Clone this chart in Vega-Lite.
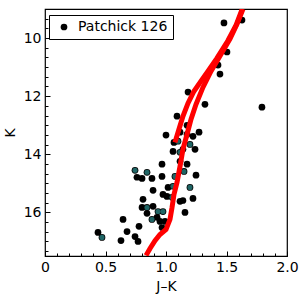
{
  "$schema": "https://vega.github.io/schema/vega-lite/v6.json",
  "width": 242,
  "height": 247,
  "autosize": "none",
  "padding": {"left": 45, "top": 9, "right": 13, "bottom": 44},
  "config": {
    "view": {"stroke": "black", "strokeWidth": 1.2},
    "font": "DejaVu Sans",
    "axis": {"grid": false, "domain": false, "labelFlush": false, "labelOverlap": false, "labelFont": "DejaVu Sans", "labelFontSize": 14, "labelColor": "black", "titleFont": "DejaVu Sans", "titleFontSize": 14, "titleFontWeight": "normal", "titleColor": "black", "tickColor": "black", "tickWidth": 1},
    "legend": {"orient": "none", "legendX": 4, "legendY": 6, "strokeColor": "black", "fillColor": "white", "padding": 5, "symbolOffset": 3, "labelOffset": 7, "labelFontSize": 14, "labelFont": "DejaVu Sans", "labelColor": "black", "symbolType": "circle", "symbolSize": 45, "symbolStrokeWidth": 0}
  },
  "datasets": {
    "pts": [
      {"jk": 1.479, "k": 9.48, "grp": "black", "cluster": "Patchick 126"},
      {"jk": 1.628, "k": 9.38, "grp": "black", "cluster": "Patchick 126"},
      {"jk": 1.504, "k": 10.48, "grp": "black", "cluster": "Patchick 126"},
      {"jk": 1.430, "k": 10.93, "grp": "black", "cluster": "Patchick 126"},
      {"jk": 1.446, "k": 11.24, "grp": "black", "cluster": "Patchick 126"},
      {"jk": 1.793, "k": 12.38, "grp": "black", "cluster": "Patchick 126"},
      {"jk": 1.182, "k": 11.86, "grp": "black", "cluster": "Patchick 126"},
      {"jk": 1.322, "k": 12.28, "grp": "black", "cluster": "Patchick 126"},
      {"jk": 1.091, "k": 12.69, "grp": "black", "cluster": "Patchick 126"},
      {"jk": 1.174, "k": 13.0, "grp": "black", "cluster": "Patchick 126"},
      {"jk": 1.000, "k": 13.34, "grp": "black", "cluster": "Patchick 126"},
      {"jk": 1.273, "k": 13.24, "grp": "black", "cluster": "Patchick 126"},
      {"jk": 1.174, "k": 13.31, "grp": "black", "cluster": "Patchick 126"},
      {"jk": 1.223, "k": 13.38, "grp": "black", "cluster": "Patchick 126"},
      {"jk": 1.116, "k": 13.24, "grp": "black", "cluster": "Patchick 126"},
      {"jk": 1.066, "k": 13.59, "grp": "black", "cluster": "Patchick 126"},
      {"jk": 1.099, "k": 13.55, "grp": "teal", "cluster": "Patchick 126"},
      {"jk": 1.198, "k": 13.66, "grp": "teal", "cluster": "Patchick 126"},
      {"jk": 1.240, "k": 13.83, "grp": "black", "cluster": "Patchick 126"},
      {"jk": 1.140, "k": 13.83, "grp": "black", "cluster": "Patchick 126"},
      {"jk": 1.058, "k": 13.90, "grp": "black", "cluster": "Patchick 126"},
      {"jk": 1.116, "k": 13.93, "grp": "teal", "cluster": "Patchick 126"},
      {"jk": 0.967, "k": 14.34, "grp": "black", "cluster": "Patchick 126"},
      {"jk": 1.116, "k": 14.24, "grp": "black", "cluster": "Patchick 126"},
      {"jk": 1.174, "k": 14.34, "grp": "black", "cluster": "Patchick 126"},
      {"jk": 0.744, "k": 14.55, "grp": "teal", "cluster": "Patchick 126"},
      {"jk": 0.760, "k": 14.79, "grp": "black", "cluster": "Patchick 126"},
      {"jk": 0.802, "k": 14.83, "grp": "black", "cluster": "Patchick 126"},
      {"jk": 0.843, "k": 14.62, "grp": "teal", "cluster": "Patchick 126"},
      {"jk": 0.884, "k": 14.83, "grp": "black", "cluster": "Patchick 126"},
      {"jk": 0.967, "k": 14.76, "grp": "black", "cluster": "Patchick 126"},
      {"jk": 1.149, "k": 14.59, "grp": "teal", "cluster": "Patchick 126"},
      {"jk": 1.248, "k": 14.72, "grp": "black", "cluster": "Patchick 126"},
      {"jk": 1.074, "k": 14.76, "grp": "teal", "cluster": "Patchick 126"},
      {"jk": 1.058, "k": 15.10, "grp": "teal", "cluster": "Patchick 126"},
      {"jk": 1.017, "k": 15.14, "grp": "black", "cluster": "Patchick 126"},
      {"jk": 1.198, "k": 15.14, "grp": "teal", "cluster": "Patchick 126"},
      {"jk": 0.893, "k": 15.24, "grp": "black", "cluster": "Patchick 126"},
      {"jk": 0.975, "k": 15.38, "grp": "black", "cluster": "Patchick 126"},
      {"jk": 0.810, "k": 15.55, "grp": "black", "cluster": "Patchick 126"},
      {"jk": 1.008, "k": 15.45, "grp": "black", "cluster": "Patchick 126"},
      {"jk": 1.050, "k": 15.48, "grp": "teal", "cluster": "Patchick 126"},
      {"jk": 1.116, "k": 15.62, "grp": "black", "cluster": "Patchick 126"},
      {"jk": 1.140, "k": 15.59, "grp": "black", "cluster": "Patchick 126"},
      {"jk": 1.223, "k": 15.52, "grp": "black", "cluster": "Patchick 126"},
      {"jk": 1.157, "k": 16.00, "grp": "black", "cluster": "Patchick 126"},
      {"jk": 0.802, "k": 15.83, "grp": "black", "cluster": "Patchick 126"},
      {"jk": 0.843, "k": 15.83, "grp": "teal", "cluster": "Patchick 126"},
      {"jk": 0.893, "k": 15.79, "grp": "black", "cluster": "Patchick 126"},
      {"jk": 0.934, "k": 15.97, "grp": "teal", "cluster": "Patchick 126"},
      {"jk": 0.975, "k": 15.97, "grp": "teal", "cluster": "Patchick 126"},
      {"jk": 0.843, "k": 16.03, "grp": "black", "cluster": "Patchick 126"},
      {"jk": 0.884, "k": 16.24, "grp": "teal", "cluster": "Patchick 126"},
      {"jk": 0.926, "k": 16.17, "grp": "black", "cluster": "Patchick 126"},
      {"jk": 0.950, "k": 16.31, "grp": "black", "cluster": "Patchick 126"},
      {"jk": 0.992, "k": 16.31, "grp": "black", "cluster": "Patchick 126"},
      {"jk": 0.967, "k": 16.52, "grp": "black", "cluster": "Patchick 126"},
      {"jk": 0.645, "k": 16.24, "grp": "black", "cluster": "Patchick 126"},
      {"jk": 0.678, "k": 16.66, "grp": "black", "cluster": "Patchick 126"},
      {"jk": 0.777, "k": 16.48, "grp": "black", "cluster": "Patchick 126"},
      {"jk": 0.438, "k": 16.69, "grp": "black", "cluster": "Patchick 126"},
      {"jk": 0.471, "k": 16.86, "grp": "teal", "cluster": "Patchick 126"},
      {"jk": 0.628, "k": 16.97, "grp": "black", "cluster": "Patchick 126"},
      {"jk": 0.744, "k": 16.83, "grp": "black", "cluster": "Patchick 126"},
      {"jk": 0.769, "k": 17.00, "grp": "black", "cluster": "Patchick 126"}
    ],
    "iso": [
      {"jk": 0.835, "k": 17.48, "branch": "a", "i": 1},
      {"jk": 0.868, "k": 17.24, "branch": "a", "i": 2},
      {"jk": 0.909, "k": 16.97, "branch": "a", "i": 3},
      {"jk": 0.950, "k": 16.76, "branch": "a", "i": 4},
      {"jk": 1.000, "k": 16.59, "branch": "a", "i": 5},
      {"jk": 1.033, "k": 16.24, "branch": "a", "i": 6},
      {"jk": 1.050, "k": 15.83, "branch": "a", "i": 7},
      {"jk": 1.066, "k": 15.38, "branch": "a", "i": 8},
      {"jk": 1.091, "k": 14.97, "branch": "a", "i": 9},
      {"jk": 1.116, "k": 14.41, "branch": "a", "i": 10},
      {"jk": 1.140, "k": 13.83, "branch": "a", "i": 11},
      {"jk": 1.174, "k": 13.31, "branch": "a", "i": 12},
      {"jk": 1.207, "k": 12.79, "branch": "a", "i": 13},
      {"jk": 1.248, "k": 12.28, "branch": "a", "i": 14},
      {"jk": 1.306, "k": 11.69, "branch": "a", "i": 15},
      {"jk": 1.372, "k": 11.14, "branch": "a", "i": 16},
      {"jk": 1.446, "k": 10.62, "branch": "a", "i": 17},
      {"jk": 1.529, "k": 10.03, "branch": "a", "i": 18},
      {"jk": 1.587, "k": 9.52, "branch": "a", "i": 19},
      {"jk": 1.636, "k": 9.0, "branch": "a", "i": 20},
      {"jk": 1.074, "k": 13.59, "branch": "b", "i": 1},
      {"jk": 1.107, "k": 13.14, "branch": "b", "i": 2},
      {"jk": 1.140, "k": 12.69, "branch": "b", "i": 3},
      {"jk": 1.182, "k": 12.24, "branch": "b", "i": 4},
      {"jk": 1.231, "k": 11.83, "branch": "b", "i": 5},
      {"jk": 1.289, "k": 11.48, "branch": "b", "i": 6},
      {"jk": 1.347, "k": 11.14, "branch": "b", "i": 7},
      {"jk": 1.420, "k": 10.70, "branch": "b", "i": 8},
      {"jk": 1.510, "k": 10.10, "branch": "b", "i": 9},
      {"jk": 1.580, "k": 9.55, "branch": "b", "i": 10},
      {"jk": 1.630, "k": 9.0, "branch": "b", "i": 11}
    ]
  },
  "layer": [
    {
      "data": {"name": "pts"},
      "mark": {"type": "circle", "size": 45, "opacity": 1},
      "encoding": {
        "x": {"field": "jk", "type": "quantitative", "scale": {"domain": [0, 2], "nice": false, "zero": false},
              "axis": {"orient": "bottom", "values": [0, 0.5, 1, 1.5, 2], "tickSize": -5, "labelPadding": 9, "title": "J–K", "titlePadding": 5, "labelExpr": "datum.value == 0 ? '0' : format(datum.value, '.1f')"}},
        "y": {"field": "k", "type": "quantitative", "scale": {"domain": [9, 17.5], "reverse": true, "nice": false, "zero": false},
              "axis": {"orient": "left", "values": [10, 12, 14, 16], "tickSize": -5, "labelPadding": 9, "title": "K", "titlePadding": 6}},
        "color": {"field": "cluster", "type": "nominal", "scale": {"range": ["black"]}, "legend": {"title": null}}
      }
    },
    {
      "data": {"name": "pts"},
      "transform": [{"filter": "datum.grp == 'teal'"}],
      "mark": {"type": "circle", "size": 26, "color": "#1f6565", "opacity": 1},
      "encoding": {
        "x": {"field": "jk", "type": "quantitative",
              "axis": {"orient": "bottom", "values": [0.1,0.2,0.3,0.4,0.6,0.7,0.8,0.9,1.1,1.2,1.3,1.4,1.6,1.7,1.8,1.9], "tickSize": -3, "labels": false, "title": null, "domain": false}},
        "y": {"field": "k", "type": "quantitative",
              "axis": {"orient": "left", "values": [9.333,9.667,10.333,10.667,11,11.333,11.667,12.333,12.667,13,13.333,13.667,14.333,14.667,15,15.333,15.667,16.333,16.667,17,17.333], "tickSize": -3, "labels": false, "title": null, "domain": false}}
      }
    },
    {
      "data": {"name": "iso"},
      "mark": {"type": "line", "color": "#ff0000", "strokeWidth": 5, "clip": true},
      "encoding": {
        "x": {"field": "jk", "type": "quantitative", "axis": null},
        "y": {"field": "k", "type": "quantitative", "axis": null},
        "detail": {"field": "branch"},
        "order": {"field": "i", "type": "quantitative"}
      }
    }
  ],
  "resolve": {"axis": {"x": "independent", "y": "independent"}}
}
